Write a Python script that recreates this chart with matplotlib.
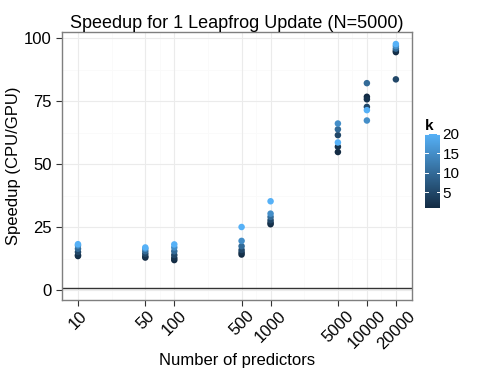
import numpy as np
import matplotlib
matplotlib.use("Agg")
import matplotlib.pyplot as plt
from matplotlib.colors import LinearSegmentedColormap, Normalize

plt.rcParams['font.family'] = ['Liberation Sans', 'DejaVu Sans']

# predictors and k values
predictors = [10, 50, 100, 500, 1000, 5000, 10000, 20000]
k_values = [1, 2, 5, 10, 15, 20]

# speedup per predictor count, one value per k (same order as k_values)
speedup_10 = [13.6, 14.0, 15.2, 16.5, 17.8, 18.3]
speedup_50 = [13.0, 13.5, 14.5, 15.5, 16.5, 17.0]
speedup_100 = [12.0, 12.8, 14.0, 15.5, 17.0, 18.2]
speedup_500 = [14.2, 15.0, 16.0, 17.5, 19.6, 25.1]
speedup_1000 = [26.2, 26.8, 27.8, 29.1, 30.4, 35.3]
speedup_5000 = [54.8, 56.9, 61.5, 63.8, 66.1, 58.6]
speedup_10000 = [76.7, 75.7, 72.7, 82.1, 67.3, 71.4]
speedup_20000 = [94.4, 95.0, 83.6, 95.8, 96.8, 97.6]

speedups = [speedup_10, speedup_50, speedup_100, speedup_500,
            speedup_1000, speedup_5000, speedup_10000, speedup_20000]

cmap = LinearSegmentedColormap.from_list("gg", ["#132B43", "#56B1F7"])
norm = Normalize(vmin=1, vmax=20)

fig = plt.figure(figsize=(4.85, 3.74), dpi=100)
ax = fig.add_axes([0.128, 0.198, 0.721, 0.716])

xs, ys, cs = [], [], []
for p, vals in zip(predictors, speedups):
    for k, v in zip(k_values, vals):
        xs.append(p)
        ys.append(v)
        cs.append(k)

ax.set_xscale("log")
lo, hi = np.log10(10), np.log10(20000)
pad = (hi - lo) * 0.05
ax.set_xlim(10 ** (lo - pad), 10 ** (hi + pad))
ax.set_ylim(-3.8, 102.3)

# grid lines (ggplot theme_bw look)
logs = np.log10(predictors)
minor_x = 10 ** ((logs[:-1] + logs[1:]) / 2)
for m in minor_x:
    ax.axvline(m, color="#FAFAFA", lw=0.6, zorder=0)
for y in [12.5, 37.5, 62.5, 87.5]:
    ax.axhline(y, color="#FAFAFA", lw=0.6, zorder=0)
for p in predictors:
    ax.axvline(p, color="#EBEBEB", lw=0.8, zorder=0)
for y in [0, 25, 50, 75, 100]:
    ax.axhline(y, color="#EBEBEB", lw=0.8, zorder=0)

ax.axhline(1, color="#333333", lw=1.0, zorder=1)

sc = ax.scatter(xs, ys, c=cs, cmap=cmap, norm=norm, s=22, linewidths=0, zorder=3)

ax.set_xticks(predictors)
ax.set_xticklabels([str(p) for p in predictors], rotation=45, fontsize=12)
ax.xaxis.set_minor_locator(matplotlib.ticker.NullLocator())
ax.set_yticks([0, 25, 50, 75, 100])
ax.set_yticklabels(["0", "25", "50", "75", "100"], fontsize=12)
ax.tick_params(axis="both", length=4, color="#333333", width=0.8)
ax.tick_params(axis="x", pad=2)
for lab in ax.get_xticklabels():
    lab.set_ha("center")
    lab.set_va("top")

for s in ax.spines.values():
    s.set_color("#7F7F7F")
    s.set_linewidth(1.0)

ax.set_title("Speedup for 1 Leapfrog Update (N=5000)", fontsize=13, pad=3)
ax.set_xlabel("Number of predictors", fontsize=12, labelpad=1)
ax.set_ylabel("Speedup (CPU/GPU)", fontsize=12, labelpad=2)

# colorbar
cax = fig.add_axes([0.876, 0.444, 0.031, 0.198])
cb = fig.colorbar(sc, cax=cax, ticks=[5, 10, 15, 20])
cb.outline.set_visible(False)
cax.tick_params(length=0, labelsize=11, pad=2)
for t in [5, 10, 15, 20]:
    cax.plot([0, 0.2], [t, t], color="white", lw=0.7, transform=cax.get_yaxis_transform())
    cax.plot([0.8, 1.0], [t, t], color="white", lw=0.7, transform=cax.get_yaxis_transform())
cax.set_title("k", fontsize=11, fontweight="bold", loc="left", pad=3)

fig.savefig("out.png", dpi=100)
